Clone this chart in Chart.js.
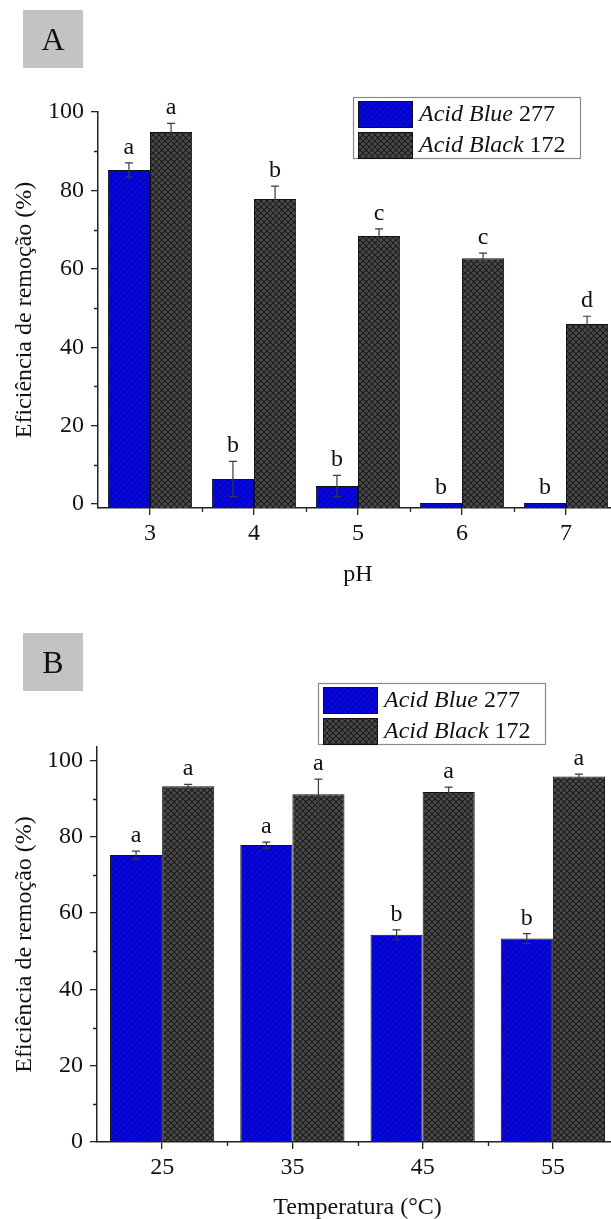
<!DOCTYPE html>
<html lang="pt">
<head>
<meta charset="utf-8">
<title>Eficiência de remoção</title>
<script src="https://cdn.jsdelivr.net/npm/chart.js@4/dist/chart.umd.min.js"></script>
<style>
  html, body { margin: 0; padding: 0; background: #fff; }
  #painel { position: relative; width: 611px; height: 1219px; overflow: hidden; background: #fff; }
  #graficoA { position: absolute; left: 0; top: 0; }
  #graficoB { position: absolute; left: 0; top: 610px; }
</style>
</head>
<body>
<div id="painel">
  <canvas id="graficoA" width="640" height="610"></canvas>
  <canvas id="graficoB" width="640" height="630"></canvas>
</div>
<script>
  // Efeito do pH
  const phLabels = ['3', '4', '5', '6', '7'];
  const phAzul = [85.2, 6.4, 4.6, 0.3, 0.3];
  const phAzulErro = [1.8, 4.5, 2.7, 0, 0];
  const phPreto = [94.9, 77.8, 68.4, 62.7, 45.9];
  const phPretoErro = [2.2, 3.3, 1.8, 1.3, 2.0];
  const phAzulLetras = ['a', 'b', 'b', 'b', 'b'];
  const phPretoLetras = ['a', 'b', 'c', 'c', 'd'];

  // Efeito da temperatura
  const tempLabels = ['25', '35', '45', '55'];
  const tempAzul = [75.2, 77.8, 54.3, 53.3];
  const tempAzulErro = [1.0, 0.8, 1.3, 1.3];
  const tempPreto = [93.2, 91.1, 91.7, 95.8];
  const tempPretoErro = [0.5, 4.0, 1.3, 0.6];
  const tempAzulLetras = ['a', 'a', 'b', 'b'];
  const tempPretoLetras = ['a', 'a', 'a', 'a'];

  const ticksY = [0, 20, 40, 60, 80, 100];
  const ticksYMenores = [10, 30, 50, 70, 90];

  const fonte = "'Liberation Serif', 'Times New Roman', serif";
  Chart.defaults.font.family = fonte;
  Chart.defaults.font.size = 24;
  Chart.defaults.color = '#111';

  // Hachuras das barras
  function hachuraAzul() {
    const c = document.createElement('canvas');
    c.width = 6; c.height = 6;
    const g = c.getContext('2d');
    g.fillStyle = '#0808d4';
    g.fillRect(0, 0, 6, 6);
    g.strokeStyle = '#0000a6';
    g.lineWidth = 1;
    g.beginPath();
    g.moveTo(-1, 7); g.lineTo(7, -1);
    g.moveTo(-1, 1); g.lineTo(1, -1);
    g.moveTo(5, 7); g.lineTo(7, 5);
    g.stroke();
    return g.createPattern(c, 'repeat');
  }

  function hachuraPreta() {
    const c = document.createElement('canvas');
    c.width = 6; c.height = 6;
    const g = c.getContext('2d');
    g.fillStyle = '#4c4c4c';
    g.fillRect(0, 0, 6, 6);
    g.strokeStyle = '#1c1c1c';
    g.lineWidth = 1.1;
    g.beginPath();
    g.moveTo(0, 0); g.lineTo(6, 6);
    g.moveTo(6, 0); g.lineTo(0, 6);
    g.stroke();
    return g.createPattern(c, 'repeat');
  }

  const padraoAzul = hachuraAzul();
  const padraoPreto = hachuraPreta();

  // Barras de erro e letras de significância
  const pluginErros = {
    id: 'erros',
    afterDatasetsDraw(chart, args, opts) {
      const ctx = chart.ctx;
      const y = chart.scales.y;
      ctx.save();
      chart.data.datasets.forEach((ds, i) => {
        const meta = chart.getDatasetMeta(i);
        meta.data.forEach((bar, j) => {
          const v = ds.data[j];
          const e = ds.erros[j];
          const topo = y.getPixelForValue(v + e);
          const base = y.getPixelForValue(Math.max(v - e, 0));
          if (e > 0) {
            ctx.strokeStyle = '#3a3a3a';
            ctx.lineWidth = 1.2;
            ctx.beginPath();
            ctx.moveTo(bar.x, topo); ctx.lineTo(bar.x, base);
            ctx.moveTo(bar.x - 4, topo); ctx.lineTo(bar.x + 4, topo);
            ctx.moveTo(bar.x - 4, base); ctx.lineTo(bar.x + 4, base);
            ctx.stroke();
          }
          ctx.fillStyle = '#111';
          ctx.font = '24px ' + fonte;
          ctx.textAlign = 'center';
          ctx.textBaseline = 'alphabetic';
          ctx.fillText(ds.letras[j], bar.x, topo - 9);
        });
      });
      ctx.restore();
    }
  };

  // Ticks menores nos dois eixos
  const pluginTicks = {
    id: 'ticksMenores',
    afterDraw(chart) {
      const ctx = chart.ctx;
      const { x, y } = chart.scales;
      const area = chart.chartArea;
      ctx.save();
      ctx.strokeStyle = '#222';
      ctx.lineWidth = 1.3;
      ctx.beginPath();
      ticksYMenores.forEach(v => {
        const py = Math.round(y.getPixelForValue(v)) + 0.5;
        ctx.moveTo(area.left - 4, py); ctx.lineTo(area.left, py);
      });
      const n = chart.data.labels.length;
      for (let i = 0; i < n - 1; i++) {
        const px = Math.round((x.getPixelForTick(i) + x.getPixelForTick(i + 1)) / 2) + 0.5;
        ctx.moveTo(px, area.bottom); ctx.lineTo(px, area.bottom + 4);
      }
      ctx.stroke();
      ctx.restore();
    }
  };

  // Caixa com a letra do painel e legenda com nome em itálico
  const pluginMoldura = {
    id: 'moldura',
    afterDraw(chart, args, opts) {
      const ctx = chart.ctx;
      ctx.save();
      const p = opts.painel;
      ctx.fillStyle = '#c3c3c3';
      ctx.fillRect(p.x, p.y, 60, 58);
      ctx.fillStyle = '#111';
      ctx.font = '32px ' + fonte;
      ctx.textAlign = 'center';
      ctx.textBaseline = 'middle';
      ctx.fillText(p.texto, p.x + 30, p.y + 32);

      const l = opts.legenda;
      ctx.fillStyle = '#fff';
      ctx.fillRect(l.x, l.y, 228, 62);
      ctx.strokeStyle = '#8a8a8a';
      ctx.lineWidth = 1.2;
      ctx.strokeRect(l.x + 0.5, l.y + 0.5, 227, 61);
      const linhas = [
        { padrao: padraoAzul, italico: 'Acid Blue', normal: ' 277', dy: 4 },
        { padrao: padraoPreto, italico: 'Acid Black', normal: ' 172', dy: 35 }
      ];
      linhas.forEach(r => {
        ctx.fillStyle = r.padrao;
        ctx.fillRect(l.x + 5, l.y + r.dy, 55, 27);
        ctx.strokeStyle = '#111';
        ctx.lineWidth = 1;
        ctx.strokeRect(l.x + 5.5, l.y + r.dy + 0.5, 54, 26);
        ctx.fillStyle = '#111';
        ctx.textAlign = 'left';
        ctx.textBaseline = 'middle';
        ctx.font = 'italic 24px ' + fonte;
        const tx = l.x + 66;
        const ty = l.y + r.dy + 14;
        ctx.fillText(r.italico, tx, ty);
        const w = ctx.measureText(r.italico).width;
        ctx.font = '24px ' + fonte;
        ctx.fillText(r.normal, tx + w, ty);
      });
      ctx.restore();
    }
  };

  function montarGrafico(id, rotulos, azul, azulErro, azulLetras, preto, pretoErro, pretoLetras, cfg) {
    const eixoCor = '#222';
    return new Chart(document.getElementById(id).getContext('2d'), {
      type: 'bar',
      data: {
        labels: rotulos,
        datasets: [{
          label: 'Acid Blue 277',
          data: azul,
          erros: azulErro,
          letras: azulLetras,
          base: cfg.minY,
          backgroundColor: padraoAzul,
          borderColor: '#111',
          borderWidth: 1
        }, {
          label: 'Acid Black 172',
          data: preto,
          erros: pretoErro,
          letras: pretoLetras,
          base: cfg.minY,
          backgroundColor: padraoPreto,
          borderColor: '#111',
          borderWidth: 1
        }]
      },
      options: {
        responsive: false,
        animation: false,
        events: [],
        barPercentage: 1,
        categoryPercentage: cfg.categoria,
        layout: { padding: { left: 0, right: 22, top: cfg.topo, bottom: cfg.baixo } },
        plugins: {
          legend: { display: false },
          tooltip: { enabled: false },
          moldura: { painel: cfg.painel, legenda: cfg.legenda }
        },
        scales: {
          x: {
            afterFit: s => { s.height = cfg.alturaX; },
            grid: { offset: false, drawOnChartArea: false, tickLength: 7, color: eixoCor, lineWidth: 1.3 },
            border: { display: true, color: eixoCor, width: 1.5 },
            ticks: { padding: 4, color: '#111' },
            title: { display: true, text: cfg.tituloX, padding: { top: 0, bottom: 2 }, color: '#111' }
          },
          y: {
            min: cfg.minY,
            max: cfg.maxY,
            afterFit: s => { s.width = cfg.larguraY; },
            afterBuildTicks: s => { s.ticks = ticksY.map(v => ({ value: v })); },
            grid: { drawOnChartArea: false, tickLength: 7, color: eixoCor, lineWidth: 1.3 },
            border: { display: true, color: eixoCor, width: 1.5 },
            ticks: { padding: 7, color: '#111' },
            title: { display: true, text: 'Eficiência de remoção (%)', padding: { top: 10.6, bottom: 0 }, color: '#111' }
          }
        }
      },
      plugins: [pluginErros, pluginTicks, pluginMoldura]
    });
  }

  montarGrafico('graficoA', phLabels, phAzul, phAzulErro, phAzulLetras, phPreto, phPretoErro, phPretoLetras, {
    categoria: 0.81,
    topo: 112,
    baixo: 18.6,
    alturaX: 83.4,
    larguraY: 98,
    minY: -1,
    maxY: 100,
    tituloX: 'pH',
    painel: { x: 23, y: 10, texto: 'A' },
    legenda: { x: 353, y: 97 }
  });

  montarGrafico('graficoB', tempLabels, tempAzul, tempAzulErro, tempAzulLetras, tempPreto, tempPretoErro, tempPretoLetras, {
    categoria: 0.8,
    topo: 137,
    baixo: 15.6,
    alturaX: 82.4,
    larguraY: 97,
    minY: 0,
    maxY: 103.5,
    tituloX: 'Temperatura (°C)',
    painel: { x: 23, y: 23, texto: 'B' },
    legenda: { x: 318, y: 73 }
  });
</script>
</body>
</html>
